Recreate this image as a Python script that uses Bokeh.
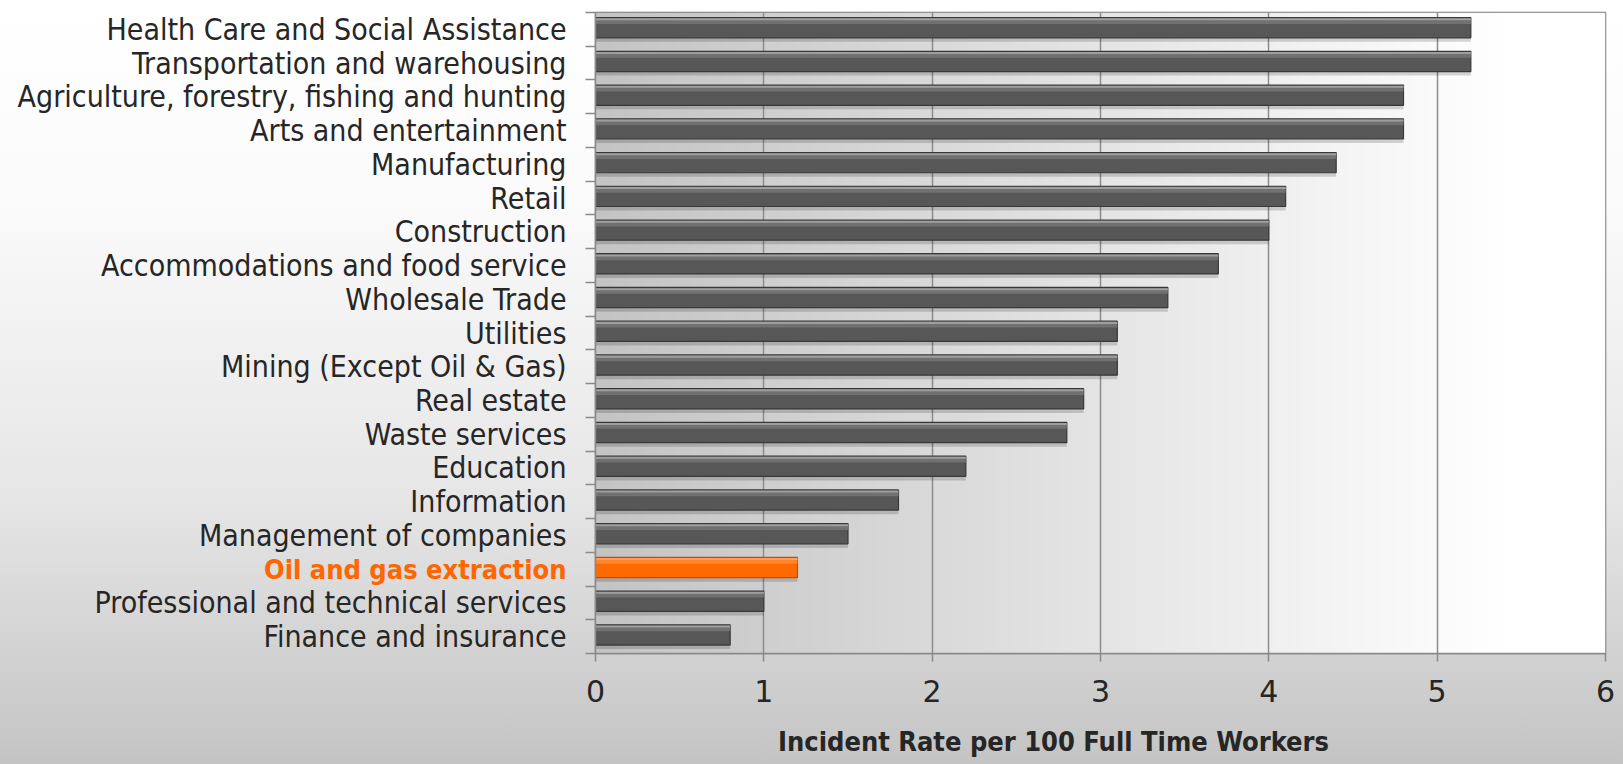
import numpy as np
from bokeh.plotting import figure
from bokeh.layouts import row, column
from bokeh.models import ColumnDataSource, FixedTicker, Range1d
from bokeh.transform import dodge
from bokeh.core.properties import value
from bokeh.embed import file_html
from bokeh.resources import INLINE

# ---- data (top to bottom as shown) ----
categories = [
    "Health Care and Social Assistance",
    "Transportation and warehousing",
    "Agriculture, forestry, fishing and hunting",
    "Arts and entertainment",
    "Manufacturing",
    "Retail",
    "Construction",
    "Accommodations and food service",
    "Wholesale Trade",
    "Utilities",
    "Mining (Except Oil & Gas)",
    "Real estate",
    "Waste services",
    "Education",
    "Information",
    "Management of companies",
    "Oil and gas extraction",
    "Professional and technical services",
    "Finance and insurance",
]
rates = [5.2, 5.2, 4.8, 4.8, 4.4, 4.1, 4.0, 3.7, 3.4, 3.1, 3.1, 2.9, 2.8, 2.2, 1.8, 1.5, 1.2, 1.0, 0.8]
highlight = "Oil and gas extraction"
x_ticks = [0, 1, 2, 3, 4, 5, 6]
x_title = "Incident Rate per 100 Full Time Workers"

n = len(categories)
ypos = [n - 1 - i for i in range(n)]
is_hi = [c == highlight for c in categories]
src = ColumnDataSource(dict(
    y=ypos,
    v=rates,
    name=categories,
    fill=["#ff6a00" if h else "#575757" for h in is_hi],
    edge=["#c04e00" if h else "#383838" for h in is_hi],
    top=["#ffa060" if h else "#a4a4a4" for h in is_hi],
    mid=["#ff8a33" if h else "#767676" for h in is_hi],
    tcol=["#ff6600" if h else "#262626" for h in is_hi],
    tstyle=["bold" if h else "normal" for h in is_hi],
    tsize=["27px" if h else "30px" for h in is_hi],
))

W = 1623
TITLE_H = 40
H = 764 - TITLE_H
LEFT_W = 585
MAIN_W = W - LEFT_W
TOP, BOTTOM = 12, 71
yr = Range1d(-0.5, n - 0.5)

# ---- left panel: category labels ----
lp = figure(width=LEFT_W, height=H, output_backend="svg", toolbar_location=None,
            x_range=Range1d(0, LEFT_W), y_range=yr,
            min_border_left=0, min_border_right=0, min_border_top=TOP,
            min_border_bottom=BOTTOM)
lp.axis.visible = False
lp.grid.visible = False
lp.outline_line_color = None
lp.border_fill_color = None
lp.background_fill_color = None
lp.text(x=LEFT_W, y="y", text="name", source=src, x_offset=-19,
        text_align="right", text_baseline="middle",
        text_font=value("DejaVu Sans Condensed"), text_font_size="tsize",
        text_font_style="tstyle", text_color="tcol")

# ---- main panel ----
p = figure(width=MAIN_W, height=H, output_backend="svg", toolbar_location=None,
           x_range=Range1d(0, 6), y_range=yr,
           min_border_left=10, min_border_right=18, min_border_top=TOP,
           min_border_bottom=BOTTOM)
p.border_fill_color = None
p.background_fill_color = None
p.outline_line_color = "#7a7a7a"
p.outline_line_width = 1.5

# plot-area horizontal gradient (style only)
cols = 256
grad = np.zeros((1, cols), dtype=np.uint32)
view = grad.view(dtype=np.uint8).reshape((1, cols, 4))
t = np.clip(np.linspace(0, 1, cols) / 0.9, 0, 1)
g = (196 + (255 - 196) * t).astype(np.uint8)
view[0, :, 0] = g
view[0, :, 1] = g
view[0, :, 2] = g
view[0, :, 3] = 255
p.image_rgba(image=[grad], x=0, y=-0.5, dw=6, dh=n, level="image")

# gridlines
p.xgrid.ticker = FixedTicker(ticks=x_ticks)
p.xgrid.grid_line_color = "#8c8c8c"
p.xgrid.grid_line_width = 1.5
p.ygrid.grid_line_color = None

# bars: shadow, body, highlights
p.hbar(y=dodge("y", -0.07, range=yr), left=0, right="v", height=0.6,
       source=src, fill_color="black", fill_alpha=0.16, line_color=None)
p.hbar(y=dodge("y", 0.05, range=yr), left=0, right="v", height=0.6, source=src,
       fill_color="fill", line_color="edge", line_width=1.2)
p.hbar(y=dodge("y", 0.24, range=yr), left=0, right="v", height=0.16, source=src,
       fill_color="mid", line_color=None, fill_alpha=0.85)
p.hbar(y=dodge("y", 0.3, range=yr), left=0, right="v", height=0.06, source=src,
       fill_color="top", line_color=None, fill_alpha=0.9)

# x axis
p.xaxis.ticker = FixedTicker(ticks=x_ticks)
p.xaxis.axis_line_color = "#8a8a8a"
p.xaxis.axis_line_width = 1.5
p.xaxis.major_tick_line_color = "#8a8a8a"
p.xaxis.major_tick_line_width = 1.5
p.xaxis.major_tick_out = 8
p.xaxis.major_tick_in = 0
p.xaxis.minor_tick_line_color = None
p.xaxis.major_label_text_font = "DejaVu Sans"
p.xaxis.major_label_text_font_size = "30px"
p.xaxis.major_label_text_color = "#262626"
p.xaxis.major_label_standoff = 18

# y axis: ticks at category boundaries only
p.yaxis.ticker = FixedTicker(ticks=[], minor_ticks=[i - 0.5 for i in range(n + 1)])
p.yaxis.axis_line_color = "#8a8a8a"
p.yaxis.axis_line_width = 1.5
p.yaxis.minor_tick_line_color = "#8a8a8a"
p.yaxis.minor_tick_line_width = 1.5
p.yaxis.minor_tick_out = 10
p.yaxis.minor_tick_in = 0
p.yaxis.major_tick_line_color = None
p.yaxis.major_label_text_font_size = "0px"

# ---- bottom strip: x-axis title ----
tf = figure(width=W, height=TITLE_H, output_backend="svg", toolbar_location=None,
            x_range=Range1d(0, W), y_range=Range1d(0, TITLE_H),
            min_border=0)
tf.axis.visible = False
tf.grid.visible = False
tf.outline_line_color = None
tf.border_fill_color = None
tf.background_fill_color = None
tf.text(x=[1053], y=[TITLE_H - 17], text=[x_title], text_align="center",
        text_baseline="middle", text_font=value("DejaVu Sans Condensed"),
        text_font_size="27px", text_font_style="bold", text_color="#262626")

layout = column(row(lp, p, spacing=0), tf, spacing=0)
layout.styles = {"background": "linear-gradient(to bottom, #ffffff 0%, #fbfbfb 25%, #e6e6e6 65%, #c4c4c4 100%)"}

open("out.html", "w").write(file_html(layout, INLINE))
